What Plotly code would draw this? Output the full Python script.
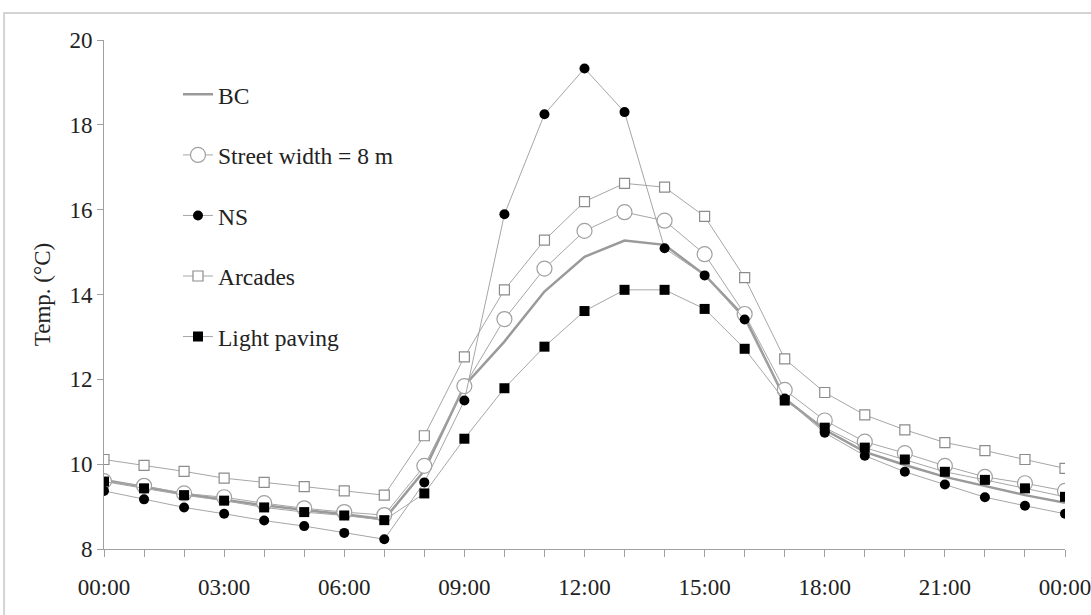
import plotly.graph_objects as go

hours = list(range(25))
tick_vals = [0, 3, 6, 9, 12, 15, 18, 21, 24]
tick_text = ["00:00", "03:00", "06:00", "09:00", "12:00", "15:00", "18:00", "21:00", "00:00"]

bc = [9.63, 9.47, 9.30, 9.16, 9.03, 8.92, 8.82, 8.70, 9.85, 11.85, 12.89, 14.07, 14.89,
      15.27, 15.17, 14.46, 13.47, 11.55, 10.81, 10.29, 9.98, 9.70, 9.49, 9.27, 9.09]
street8 = [9.60, 9.49, 9.31, 9.22, 9.08, 8.96, 8.87, 8.80, 9.96, 11.84, 13.42, 14.61, 15.50,
           15.94, 15.74, 14.95, 13.54, 11.75, 11.03, 10.53, 10.26, 9.96, 9.70, 9.55, 9.37]
ns = [9.37, 9.17, 8.98, 8.83, 8.67, 8.54, 8.38, 8.23, 9.57, 11.50, 15.89, 18.25, 19.33,
      18.30, 15.09, 14.45, 13.41, 11.55, 10.74, 10.20, 9.82, 9.52, 9.22, 9.02, 8.83]
arcades = [10.11, 9.97, 9.83, 9.67, 9.57, 9.47, 9.37, 9.27, 10.67, 12.53, 14.11, 15.28, 16.19,
           16.62, 16.53, 15.84, 14.40, 12.48, 11.69, 11.16, 10.81, 10.51, 10.32, 10.11, 9.90]
light_paving = [9.59, 9.43, 9.27, 9.14, 8.98, 8.87, 8.79, 8.68, 9.31, 10.60, 11.79, 12.77, 13.61,
                14.11, 14.11, 13.66, 12.72, 11.50, 10.86, 10.39, 10.11, 9.82, 9.63, 9.43, 9.23]

FONT = "Liberation Serif, Times New Roman, serif"
TXT = "#222222"
LINE_GRAY = "#a6a6a6"
FS = 23

fig = go.Figure()
fig.add_trace(go.Scatter(x=hours, y=bc, name="BC", mode="lines", legendgroup="a",
                         line=dict(color="#9a9a9a", width=2.5)))
fig.add_trace(go.Scatter(x=hours, y=street8, name="Street width = 8 m", mode="lines+markers",
                         legendgroup="b", line=dict(color=LINE_GRAY, width=1),
                         marker=dict(symbol="circle", size=15, color="white",
                                     line=dict(color="#a0a0a0", width=1.2))))
fig.add_trace(go.Scatter(x=hours, y=ns, name="NS", mode="lines+markers", legendgroup="c",
                         line=dict(color=LINE_GRAY, width=1),
                         marker=dict(symbol="circle", size=10, color="black",
                                     line=dict(color="black", width=0))))
fig.add_trace(go.Scatter(x=hours, y=arcades, name="Arcades", mode="lines+markers", legendgroup="d",
                         line=dict(color=LINE_GRAY, width=1),
                         marker=dict(symbol="square", size=10, color="white",
                                     line=dict(color="#8c8c8c", width=1.2))))
fig.add_trace(go.Scatter(x=hours, y=light_paving, name="Light paving", mode="lines+markers",
                         legendgroup="e", line=dict(color=LINE_GRAY, width=1),
                         marker=dict(symbol="square", size=10, color="black",
                                     line=dict(color="black", width=0))))

fig.update_layout(
    width=1091, height=615,
    margin=dict(l=104, r=26, t=40, b=66, autoexpand=False),
    paper_bgcolor="white", plot_bgcolor="white",
    font=dict(family=FONT, size=FS, color=TXT),
    showlegend=True,
    legend=dict(x=0.077, y=0.936, xanchor="left", yanchor="top", bgcolor="rgba(0,0,0,0)",
                tracegroupgap=27, font=dict(family=FONT, size=23.5, color=TXT)),
    shapes=[dict(type="rect", xref="paper", yref="paper", x0=-0.104, x1=1.04, y0=-0.15, y1=1.053,
                 line=dict(color="#d4d4d4", width=2), layer="below")],
)
fig.update_xaxes(range=[0, 24], showgrid=False, zeroline=False, showline=True, linecolor="#a0a0a0",
                 linewidth=1, tickmode="array", tickvals=tick_vals, ticktext=tick_text,
                 ticks="outside", ticklen=7, tickcolor="#a0a0a0", ticklabelstandoff=10,
                 ticklabeloverflow="allow", automargin=False,
                 minor=dict(dtick=1, ticks="outside", ticklen=7, tickcolor="#a0a0a0"),
                 tickfont=dict(family=FONT, size=FS, color=TXT))
fig.update_yaxes(range=[8, 20], dtick=2, showgrid=False, zeroline=False, showline=True,
                 linecolor="#a0a0a0", linewidth=1, ticks="outside", ticklen=6, tickcolor="#a0a0a0",
                 automargin=False,
                 tickfont=dict(family=FONT, size=FS, color=TXT),
                 title=dict(text="Temp. (°C)", font=dict(family=FONT, size=FS, color=TXT), standoff=12))

fig.write_html("out.html", config={"displayModeBar": False},
               post_script="document.body.style.margin='0';document.body.style.overflow='hidden';")
